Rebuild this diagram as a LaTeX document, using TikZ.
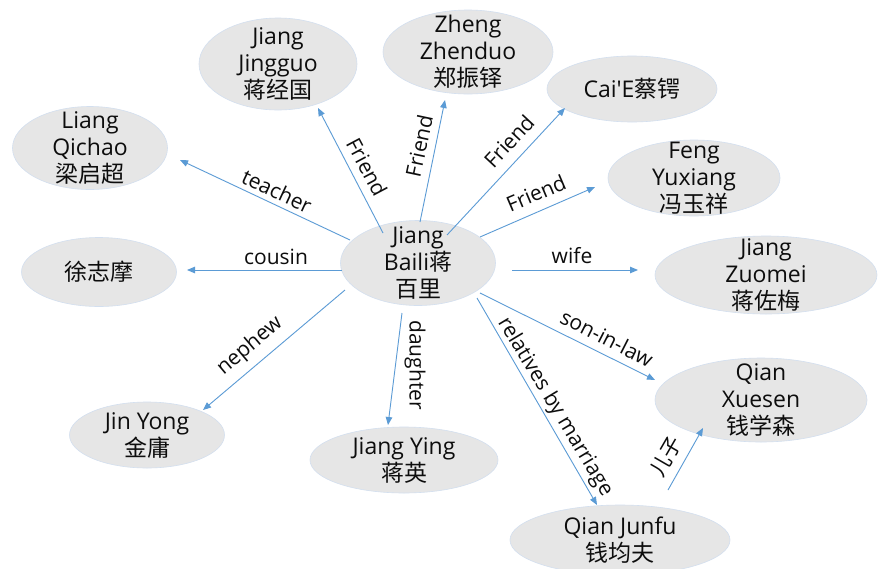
\documentclass[tikz,border=0pt]{standalone}
\usepackage{fontspec}
\setmainfont{Open Sans}
\newfontfamily\plainfont{Open Sans}
\newfontfamily\cjk{Noto Sans CJK SC}
\usetikzlibrary{shapes.geometric,arrows.meta}
\definecolor{nodefill}{HTML}{E6E6E6}
\definecolor{nodeline}{HTML}{D3DFEF}
\definecolor{arrowblue}{HTML}{5B9BD5}
\definecolor{txt}{HTML}{0D0D0D}
\begin{document}
\begin{tikzpicture}[x=1pt,y=-1pt,
  person/.style={ellipse, fill=nodefill, draw=nodeline, line width=0.6pt,
    inner sep=-40pt, align=center, text=txt, font=\fontsize{23}{27}\selectfont},
  rel/.style={draw=arrowblue, line width=0.9pt, -{Triangle[length=8pt,width=6.5pt]}},
  lab/.style={text=txt, font=\fontsize{21}{25}\selectfont, inner sep=0pt}]
\fill[white] (0,0) rectangle (880,568);
\useasboundingbox (0,0) rectangle (880,568);
% people
\node[person, minimum width=155pt, minimum height=85pt] (jb) at (418,263) {Jiang\\Baili{\cjk 蒋}\\{\cjk 百里}};
\node[person, minimum width=155pt, minimum height=83pt] (lq) at (90,148) {Liang\\Qichao\\{\cjk 梁启超}};
\node[person, minimum width=158pt, minimum height=92pt] (jj) at (278,64) {Jiang\\Jingguo\\{\cjk 蒋经国}};
\node[person, minimum width=170pt, minimum height=84pt] (zz) at (468,52) {Zheng\\Zhenduo\\{\cjk 郑振铎}};
\node[person, minimum width=170pt, minimum height=66pt] (ca) at (632,89) {{\plainfont Cai'E}{\cjk 蔡锷}};
\node[person, minimum width=172pt, minimum height=76pt] (fy) at (694,178) {Feng\\Yuxiang\\{\cjk 冯玉祥}};
\node[person, minimum width=222pt, minimum height=78pt] (jz) at (766,275) {Jiang\\Zuomei\\{\cjk 蒋佐梅}};
\node[person, minimum width=212pt, minimum height=84pt] (qx) at (761,400) {Qian\\Xuesen\\{\cjk 钱学森}};
\node[person, minimum width=220pt, minimum height=70pt] (qj) at (620,540) {Qian Junfu\\{\cjk 钱均夫}};
\node[person, minimum width=188pt, minimum height=66pt] (jy) at (404,460) {Jiang Ying\\{\cjk 蒋英}};
\node[person, minimum width=155pt, minimum height=66pt] (jn) at (147,435) {Jin Yong\\{\cjk 金庸}};
\node[person, minimum width=155pt, minimum height=69pt] (xz) at (99,272) {{\cjk 徐志摩}};
% connectors
\draw[rel] ([shift={(-68,-23)}]jb.center) -- ([shift={(90,12)}]lq.center);
\draw[rel] ([shift={(-35,-30)}]jb.center) -- ([shift={(40,44)}]jj.center);
\draw[rel] ([shift={(2,-41)}]jb.center) -- ([shift={(-23,48)}]zz.center);
\draw[rel] ([shift={(29,-28)}]jb.center) -- ([shift={(-67,19)}]ca.center);
\draw[rel] ([shift={(62,-26)}]jb.center) -- ([shift={(-99,9)}]fy.center);
\draw[rel] ([shift={(94,7)}]jb.center) -- ([shift={(-128,-5)}]jz.center);
\draw[rel] ([shift={(62,30)}]jb.center) -- ([shift={(-106,-20)}]qx.center);
\draw[rel] ([shift={(59,35)}]jb.center) -- ([shift={(-23,-35)}]qj.center);
\draw[rel] ([shift={(48,-50)}]qj.center) -- ([shift={(-58,28)}]qx.center);
\draw[rel] ([shift={(-16,50)}]jb.center) -- ([shift={(-16,-35)}]jy.center);
\draw[rel] ([shift={(-73,27)}]jb.center) -- ([shift={(56,-25)}]jn.center);
\draw[rel] ([shift={(-76,7)}]jb.center) -- ([shift={(88,-2)}]xz.center);
% labels
\node[lab, rotate=-25] (l1) at (277,191) {teacher};
\node[lab, rotate=-62] (l2) at (367,167) {Friend};
\node[lab, rotate=78] (l3) at (419,146) {Friend};
\node[lab, rotate=47] (l4) at (509,141) {Friend};
\node[lab, rotate=23] (l5) at (536,193) {Friend};
\node[lab] (l6) at (572,256) {wife};
\node[lab, rotate=-27] (l7) at (607,338) {son-in-law};
\node[lab, rotate=-59] (l8) at (555,407) {relatives by marriage};
\node[lab, rotate=60] (l9) at (666,457) {{\cjk 儿子}};
\node[lab, rotate=-90] (l10) at (415,365) {daughter};
\node[lab, rotate=40] (l11) at (250,346) {nephew};
\node[lab] (l12) at (276,257) {cousin};
\end{tikzpicture}
\end{document}
